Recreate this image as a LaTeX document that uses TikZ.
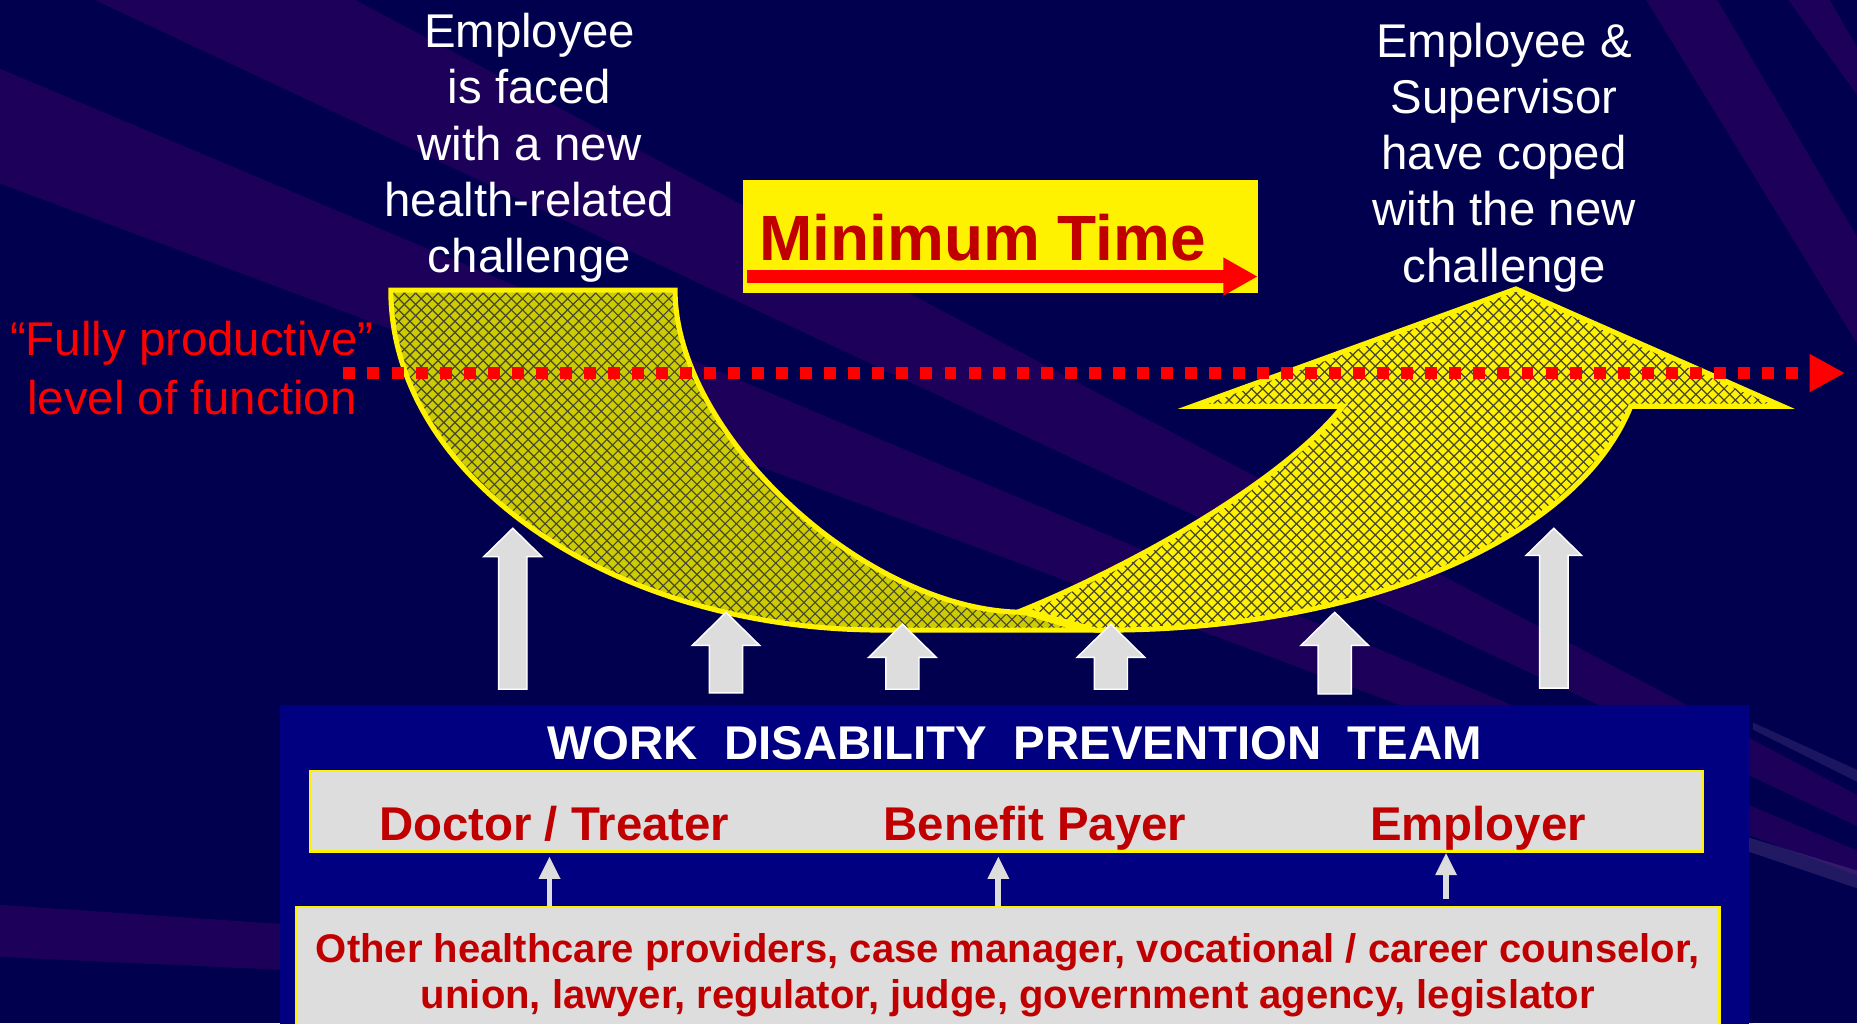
\documentclass[tikz,border=0pt]{standalone}
\usepackage{fontspec}
\setmainfont{Liberation Sans}
\usetikzlibrary{arrows.meta}
\definecolor{bgnavy}{RGB}{0,0,78}
\definecolor{raypurple}{RGB}{28,0,90}
\definecolor{teamblue}{RGB}{0,0,128}
\definecolor{boxgray}{RGB}{221,221,221}
\definecolor{darkred}{RGB}{192,0,0}
\definecolor{bandolive}{RGB}{204,204,0}
\definecolor{hatchcol}{RGB}{70,70,50}
\tikzset{
  whitetxt/.style={text=white, font=\fontsize{40}{47.5}\selectfont, align=center, inner sep=0pt},
  redlbl/.style={text=darkred, font=\bfseries\fontsize{40}{48}\selectfont, inner sep=0pt},
  graybox/.style={fill=boxgray, draw=yellow, line width=2pt, inner sep=0pt},
  blockarrow/.style={fill=boxgray, draw=white, line width=1.2pt, line join=miter},
  smallarrow/.style={draw=boxgray, line width=5pt, -{Triangle[width=17pt,length=19pt]}},
  hatchline/.style={draw=hatchcol, line width=1pt},
  bandoutline/.style={draw=yellow, line width=4.3pt, line join=miter},
  dotline/.style={draw=red, line width=10pt, dash pattern=on 10.1pt off 10.2pt, -{Triangle[width=30pt,length=30pt]}},
}
\begin{document}
\begin{tikzpicture}[x=1pt,y=-1pt]
\clip (0,0) rectangle (1568,864);
\fill[bgnavy] (0,0) rectangle (1568,864);
% background rays
\coordinate (C) at (2000,900);
\fill[raypurple] (C) -- (80,0) -- (300,0) -- cycle;
\fill[raypurple] (C) -- (0,58) -- (0,155) -- cycle;
\fill[raypurple] (C) -- (0,764) -- (0,808) -- cycle;
\fill[raypurple] (1390,0) -- (1450,0) -- (1568,200) -- (1568,290) -- cycle;
\fill[raypurple] (1510,0) -- (1545,0) -- (1568,40) -- (1568,80) -- cycle;
\fill[raypurple!70!white, opacity=0.35] (1420,690) -- (1568,735) -- (1568,750) -- (1420,700) -- cycle;
\fill[raypurple!70!white, opacity=0.3] (1480,610) -- (1568,650) -- (1568,660) -- (1480,616) -- cycle;

% team box
\node[fill=teamblue, minimum width=1241pt, minimum height=290pt, inner sep=0pt, anchor=north west] (team) at (236,595) {};

% left band
\path[save path=\leftband] (330,245) -- (570,245) .. controls (570,367) and (732,517) .. (865,517) -- (915,532) -- (745,532) .. controls (516,532) and (330,403) .. (330,245) -- cycle;
\fill[bandolive, use path=\leftband];
\begin{scope}
\clip[use path=\leftband];
\foreach \k in {-210,-200.5,...,680} \draw[hatchline] ({\k+200},200) -- ++(400,400);
\foreach \k in {570,579.5,...,1460} \draw[hatchline] ({\k-200},200) -- ++(-400,400);
\end{scope}
\path[bandoutline, use path=\leftband];

% right band (arrow)
\path[save path=\rightband] (864,515) .. controls (950,480) and (1080,410) .. (1134,343) -- (1007,343) -- (1280,244) -- (1505,343) -- (1377,343) .. controls (1330,460) and (1140,534) .. (925,532) -- cycle;
\fill[yellow, use path=\rightband];
\begin{scope}
\clip[use path=\rightband];
\foreach \k in {320,329.5,...,1270} \draw[hatchline] ({\k+200},200) -- ++(400,400);
\foreach \k in {1100,1109.5,...,2045} \draw[hatchline] ({\k-200},200) -- ++(-400,400);
\end{scope}
\path[bandoutline, use path=\rightband];

% dotted "fully productive" line
\coordinate (fpstart) at (290,315);
\coordinate (fptip) at (1558,315);
\draw[dotline] (fpstart) -- (fptip);

% block arrows
\foreach \x/\tip/\base/\bot/\sw/\hw in {433/446/470/582/12/24.5, 613/517/545/585/14/28.5, 762/527/555/582/14/28.5, 938/527/555/582/14/28.5, 1127/517/545/586/14/28.5, 1312/446/469/581/12/23.5}
  \path[blockarrow] ({\x-\sw},\bot) -- ({\x-\sw},\base) -- ({\x-\hw},\base) -- (\x,\tip) -- ({\x+\hw},\base) -- ({\x+\sw},\base) -- ({\x+\sw},\bot) -- cycle;

% Minimum time box
\node[fill=yellow, minimum width=435pt, minimum height=95pt, inner sep=0pt] (mtbox) at (844.5,199.5) {};
\node[text=darkred, font=\bfseries\fontsize{54}{60}\selectfont, inner sep=0pt, anchor=base west] (mt) at (641,220) {Minimum Time};
\coordinate (mtstart) at (631,233.5);
\coordinate (mtend) at (1062,233.5);
\draw[red, line width=11pt, -{Triangle[width=30pt,length=29pt]}] (mtstart) -- (mtend);

% texts
\node[whitetxt, anchor=north] (faced) at (447,11) {Employee\\is faced\\with a new\\health-related\\challenge};
\node[whitetxt, anchor=north] (coped) at (1270,19) {Employee \&\\Supervisor\\have coped\\with the new\\challenge};
\node[text=red, font=\fontsize{40}{50}\selectfont, align=center, inner sep=0pt, anchor=north] (fpl) at (162,271) {``Fully productive''\\level of function};

% team content
\node[text=white, font=\bfseries\fontsize{40}{46}\selectfont, inner sep=0pt, anchor=base] (wdpt) at (857,641) {WORK\ \ DISABILITY\ \ PREVENTION\ \ TEAM};
\node[graybox, minimum width=1176pt, minimum height=68pt] (row) at (850,685) {};
\node[redlbl, anchor=base] (doc) at (468,710) {Doctor / Treater};
\node[redlbl, anchor=base] (pay) at (874,710) {Benefit Payer};
\node[redlbl, anchor=base] (emp) at (1248,710) {Employer};
\node[graybox, minimum width=1202pt, minimum height=134pt] (others) at (851,833) {};
\node[text=darkred, font=\bfseries\fontsize{33.8}{38.5}\selectfont, align=center, inner sep=0pt, anchor=north] (otxt) at (851,788) {Other healthcare providers, case manager, vocational / career counselor,\\union, lawyer, regulator, judge, government agency, legislator};

% small arrows
\coordinate (s1) at (464,0);
\coordinate (s2) at (843,0);
\coordinate (s3) at (1221,0);
\draw[smallarrow] (others.north -| s1) -- ([yshift=-3pt]row.south -| s1);
\draw[smallarrow] (others.north -| s2) -- ([yshift=-3pt]row.south -| s2);
\draw[smallarrow] ([yshift=6pt]others.north -| s3) -- ([yshift=0pt]row.south -| s3);
\end{tikzpicture}
\end{document}
